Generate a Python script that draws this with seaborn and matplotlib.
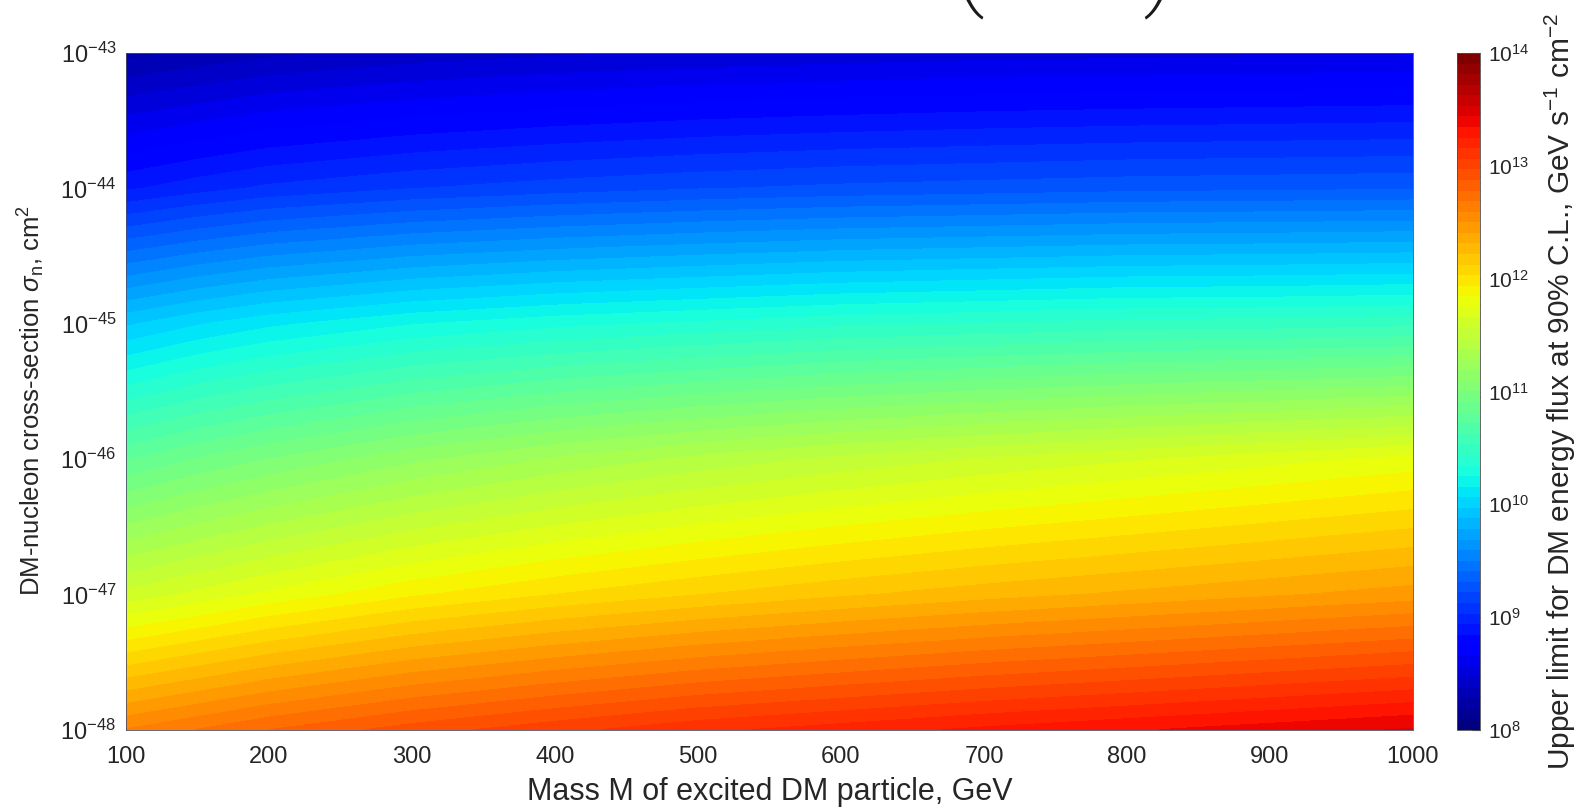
import numpy as np
import matplotlib
matplotlib.use("Agg")
import matplotlib.pyplot as plt
from matplotlib.ticker import FixedLocator, FuncFormatter, NullFormatter
import seaborn as sns

# Mass of the excited DM particle (GeV) and log10 of the DM-nucleon cross-section (cm^2)
mass_gev = [100, 150, 200, 300, 400, 500, 600, 700, 800, 900, 1000]
log_sigma = [-43, -44, -45, -46, -47, -48]

# log10 of the upper limit on the DM energy flux (GeV s^-1 cm^-2), rows follow log_sigma
log_flux = [
    [8.25, 8.30, 8.35, 8.41, 8.45, 8.48, 8.50, 8.52, 8.53, 8.54, 8.55],
    [8.92, 8.99, 9.05, 9.12, 9.17, 9.21, 9.24, 9.26, 9.28, 9.29, 9.30],
    [9.95, 10.05, 10.13, 10.24, 10.31, 10.36, 10.41, 10.44, 10.47, 10.48, 10.50],
    [10.80, 10.91, 11.00, 11.16, 11.29, 11.40, 11.49, 11.57, 11.64, 11.71, 11.78],
    [11.59, 11.68, 11.77, 11.92, 12.03, 12.12, 12.20, 12.27, 12.33, 12.39, 12.45],
    [12.60, 12.69, 12.78, 12.92, 13.03, 13.13, 13.20, 13.27, 13.33, 13.39, 13.45],
]

mass_ticks = [100, 200, 300, 400, 500, 600, 700, 800, 900, 1000]
sigma_tick_exponents = [-48, -47, -46, -45, -44, -43]
flux_tick_exponents = [8, 9, 10, 11, 12, 13, 14]

sns.set_theme(style="white")
plt.rcParams["font.family"] = ["Liberation Sans", "DejaVu Sans"]
plt.rcParams["mathtext.fontset"] = "custom"
plt.rcParams["mathtext.rm"] = "Liberation Sans"
plt.rcParams["mathtext.it"] = "Liberation Sans:italic"
plt.rcParams["mathtext.bf"] = "Liberation Sans:bold"

text_color = "#262626"

fig = plt.figure(figsize=(15.87, 8.07), dpi=100)
ax = fig.add_axes([126 / 1587, 1 - 730 / 807, (1413 - 126) / 1587, (730 - 53) / 807])
cax = fig.add_axes([1457 / 1587, 1 - 730 / 807, 23 / 1587, (730 - 53) / 807])

jet64 = matplotlib.colormaps["jet"].resampled(64)
levels = np.linspace(flux_tick_exponents[0], flux_tick_exponents[-1], 65)

X, Y = np.meshgrid(mass_gev, log_sigma)
cs = ax.contourf(X, Y, np.array(log_flux), levels=levels, cmap=jet64)
cs.set_edgecolor("face")
cs.set_linewidth(0.6)

ax.set_xlim(mass_gev[0], mass_gev[-1])
ax.set_ylim(log_sigma[-1], log_sigma[0])
ax.set_xticks(mass_ticks)
ax.set_yticks(sigma_tick_exponents)
ax.yaxis.set_major_formatter(FuncFormatter(lambda v, p: r"$10^{%d}$" % round(v)))
ax.tick_params(axis="both", length=0, labelsize=17, colors=text_color)
ax.tick_params(axis="x", pad=11.5)
ax.tick_params(axis="y", pad=7)
for sp in ax.spines.values():
    sp.set_color("#4d4d66")
    sp.set_linewidth(0.6)

ax.set_xlabel("Mass M of excited DM particle, GeV", fontsize=22, color=text_color)
ax.xaxis.set_label_coords(0.5, -0.1034)
ax.xaxis.label.set_verticalalignment("baseline")
ax.set_ylabel(r"DM-nucleon cross-section $\sigma_{\mathrm{n}}$, cm$^2$", fontsize=18.5,
              color=text_color)
ax.yaxis.set_label_coords(-0.0614, 0.487)

cb = fig.colorbar(cs, cax=cax, ticks=flux_tick_exponents)
cb.outline.set_edgecolor("#4d4d4d")
cb.outline.set_linewidth(0.6)
cax.yaxis.set_major_formatter(FuncFormatter(lambda v, p: r"$10^{%d}$" % round(v)))
minor = [e + np.log10(k) for e in flux_tick_exponents[:-1] for k in range(2, 10)]
cax.yaxis.set_minor_locator(FixedLocator(minor))
cax.yaxis.set_minor_formatter(NullFormatter())
cax.tick_params(axis="y", which="major", direction="in", length=6, width=0.8,
                color="#4d4d4d", labelsize=15, labelcolor=text_color, pad=6, right=True)
cax.tick_params(axis="y", which="minor", direction="in", length=3, width=0.6,
                color="#4d4d4d", right=True)
cb.set_label(r"Upper limit for DM energy flux at 90% C.L., GeV s$^{-1}$ cm$^{-2}$",
             fontsize=21.5, color=text_color)
cax.yaxis.set_label_coords(3.75, 0.5)

# Lower ends of the large brackets of the title above the plot
fig.text(966 / 1587, 1 - 20 / 807, "(", fontsize=90, family=["Roboto", "DejaVu Sans"],
         fontweight=100, color="#1a1a1a", ha="center", va="bottom")
fig.text(1161 / 1587, 1 - 20 / 807, ")", fontsize=90, family=["Roboto", "DejaVu Sans"],
         fontweight=100, color="#1a1a1a", ha="center", va="bottom")

fig.savefig("out.png", dpi=100)
